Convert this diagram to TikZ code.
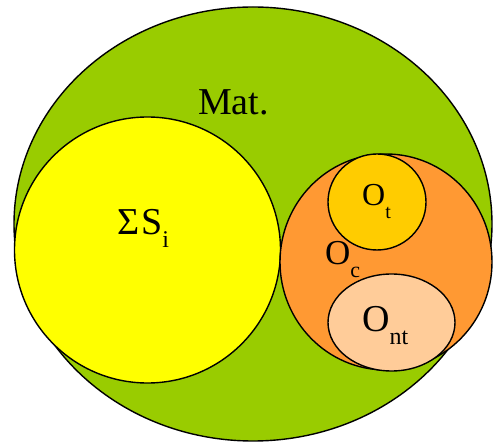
\documentclass[tikz,border=0pt]{standalone}
\usepackage{fontspec}
\setmainfont{Liberation Serif}
\newfontfamily\labelfont{Liberation Serif}
\definecolor{matgreen}{HTML}{99CC00}
\definecolor{sumyellow}{HTML}{FFFF00}
\definecolor{ocorange}{HTML}{FF9933}
\definecolor{otgold}{HTML}{FFCC00}
\definecolor{ntpeach}{HTML}{FFCC99}
\usetikzlibrary{shapes.geometric}
\newcommand{\lowsub}[2][24]{\raisebox{-13pt}{\fontsize{#1}{#1}\selectfont #2}}
\tikzset{
	setnode/.style={
			ellipse,
			draw=black,
			line width=1.4pt,
			inner sep=0pt
		},
	matnode/.style={
			setnode,
			fill=matgreen
		},
	sumnode/.style={
			setnode,
			fill=sumyellow
		},
	ocnode/.style={
			setnode,
			fill=ocorange
		},
	otnode/.style={
			setnode,
			fill=otgold
		},
	ontnode/.style={
			setnode,
			fill=ntpeach
		},
	labelnode/.style={
			inner sep=0pt,
			anchor=base west,
			font=\labelfont\fontsize{38}{40}\selectfont
		},
	smalllabelnode/.style={
			labelnode,
			font=\labelfont\fontsize{32}{34}\selectfont
		}
}

\begin{document}
\begin{tikzpicture}[x=1pt, y=-1pt]
\useasboundingbox (0,0) rectangle (493,443);

\node[matnode, minimum width=478pt, minimum height=434pt] (mat) at (253,224) {};
\node[sumnode, minimum width=266pt, minimum height=266pt] (sum) at (147.5,250) {};
\node[ocnode, minimum width=212pt, minimum height=216pt] (oc) at (386,262) {};
\node[otnode, minimum width=98pt, minimum height=96pt] (ot) at (377,202) {};
\node[ontnode, minimum width=127pt, minimum height=97pt] (ont) at (391.5,322.5) {};

% labels
\node[labelnode] (matlabel) at (198,115) {Mat.};
\node[labelnode] (sumlabel) at (117,235) {Σ\kern2pt S\lowsub{i}};
\node[smalllabelnode] (otlabel) at (362,206) {O\lowsub[20]{t}};
\node[labelnode, font=\labelfont\fontsize{35}{38}\selectfont] (oclabel) at (325,265) {O\lowsub[22]{c}};
\node[labelnode] (ontlabel) at (362,332) {O\lowsub{nt}};
\end{tikzpicture}
\end{document}
